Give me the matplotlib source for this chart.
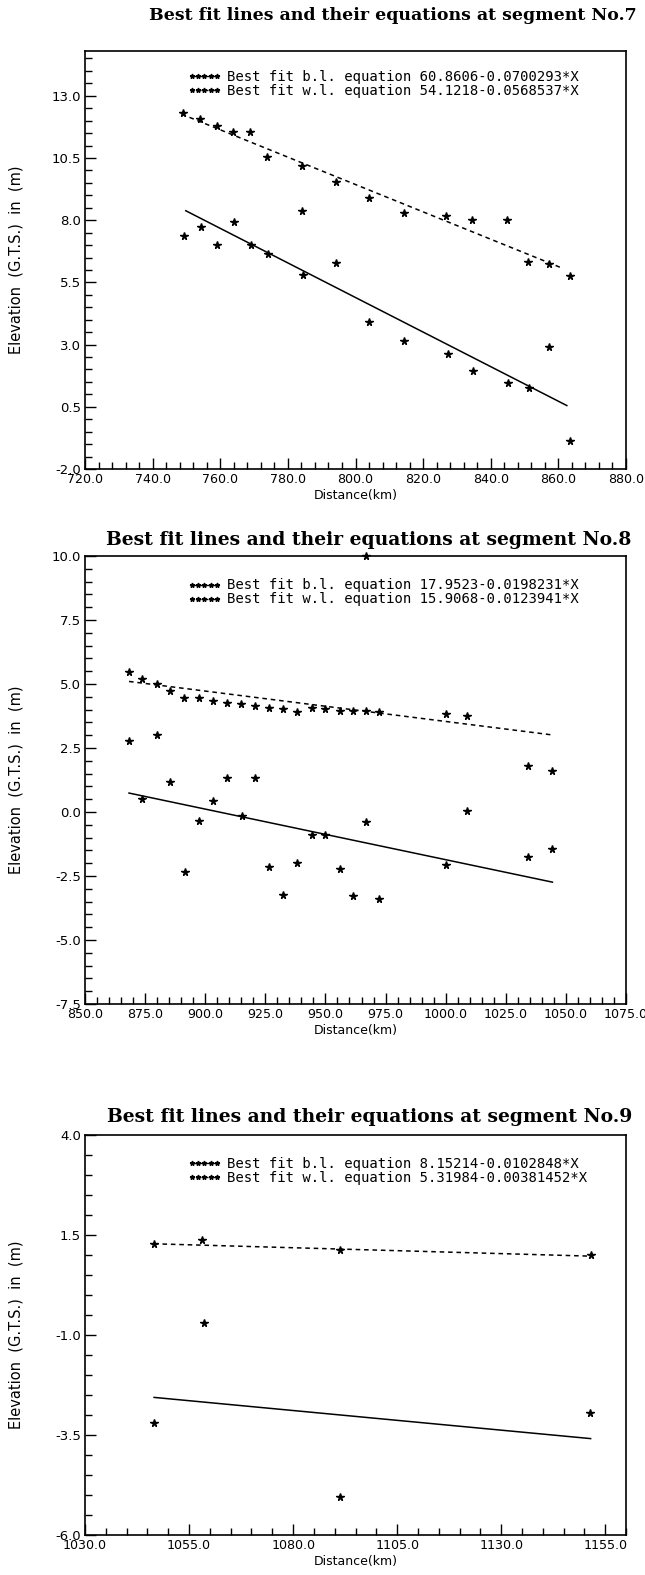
import matplotlib
matplotlib.use('Agg')
import matplotlib.pyplot as plt
from matplotlib.lines import Line2D
from matplotlib.ticker import MultipleLocator, FixedLocator, FormatStrFormatter

plt.rcParams['font.family'] = ['DejaVu Sans']
plt.rcParams['axes.unicode_minus'] = False

# segment No.7
seg7_wl_x = [748.9, 754.0, 758.9, 763.7, 768.8, 773.8, 784.2, 794.1, 804.1, 814.2, 826.9, 834.6, 844.8, 851.0, 857.3, 863.4]
seg7_wl_y = [12.30, 12.08, 11.77, 11.53, 11.53, 10.54, 10.19, 9.52, 8.89, 8.29, 8.15, 8.02, 7.99, 6.30, 6.24, 5.77]
seg7_bl_x = [749.2, 754.3, 759.1, 764.1, 769.0, 774.1, 784.2, 784.4, 794.1, 804.1, 814.4, 827.3, 834.8, 845.1, 851.2, 857.3, 863.4]
seg7_bl_y = [7.35, 7.71, 7.01, 7.93, 6.99, 6.65, 8.38, 5.81, 6.28, 3.89, 3.16, 2.64, 1.95, 1.46, 1.26, 2.89, -0.89]
seg7_bl_line_x = [749.8, 862.5]
seg7_bl_line_y = [8.38, 0.55]
seg7_wl_line_x = [748.6, 861.0]
seg7_wl_line_y = [12.26, 6.08]
seg7_labels = ['Best fit b.l. equation 60.8606-0.0700293*X',
               'Best fit w.l. equation 54.1218-0.0568537*X']

# segment No.8
seg8_wl_x = [868.3, 873.9, 879.9, 885.5, 891.3, 897.5, 903.3, 908.9, 914.9, 920.6, 926.6, 932.5, 938.0,
             944.3, 950.0, 956.0, 961.6, 967.0, 972.2, 1000.3, 1008.9, 1034.2, 1044.4, 967.0]
seg8_wl_y = [5.46, 5.21, 5.00, 4.72, 4.44, 4.44, 4.35, 4.26, 4.21, 4.13, 4.07, 4.03, 3.89,
             4.07, 4.03, 3.96, 3.93, 3.93, 3.89, 3.82, 3.75, 1.81, 1.60, 10.0]
seg8_bl_x = [868.3, 873.9, 879.9, 885.5, 891.5, 897.5, 903.3, 908.9, 915.3, 920.6, 926.6, 932.5, 938.0,
             944.3, 950.0, 956.0, 961.6, 967.0, 972.2, 1000.3, 1008.9, 1034.2, 1044.4]
seg8_bl_y = [2.78, 0.49, 3.01, 1.18, -2.33, -0.35, 0.42, 1.32, -0.14, 1.32, -2.13, -3.24, -2.01,
             -0.88, -0.88, -2.22, -3.29, -0.38, -3.38, -2.08, 0.04, -1.74, -1.43]
seg8_bl_line_x = [868.3, 1044.4]
seg8_bl_line_y = [0.74, -2.74]
seg8_wl_line_x = [868.3, 1044.4]
seg8_wl_line_y = [5.10, 3.01]
seg8_labels = ['Best fit b.l. equation 17.9523-0.0198231*X',
               'Best fit w.l. equation 15.9068-0.0123941*X']

# segment No.9
seg9_wl_x = [1046.6, 1058.2, 1091.3, 1151.5]
seg9_wl_y = [1.28, 1.38, 1.13, 0.99]
seg9_bl_x = [1046.6, 1058.5, 1091.3, 1151.3]
seg9_bl_y = [-3.19, -0.69, -5.04, -2.94]
seg9_bl_line_x = [1046.6, 1151.5]
seg9_bl_line_y = [-2.56, -3.59]
seg9_wl_line_x = [1046.6, 1152.0]
seg9_wl_line_y = [1.28, 0.97]
seg9_labels = ['Best fit b.l. equation 8.15214-0.0102848*X',
               'Best fit w.l. equation 5.31984-0.00381452*X']

W, H = 645, 1575


def draw_segment(rect, title, title_xy, title_size, wl, bl, wl_line, bl_line, labels,
                 xlim, xmajor, xminor, ylim, yticks, leg_anchor):
    ax = fig.add_axes(rect)
    ax.plot(wl_line[0], wl_line[1], color='k', lw=1.1, ls=(0, (3, 2.5)))
    ax.plot(bl_line[0], bl_line[1], color='k', lw=1.1, ls='-')
    ax.plot(wl[0], wl[1], ls='none', marker='*', ms=5.5, color='k', clip_on=False)
    ax.plot(bl[0], bl[1], ls='none', marker='*', ms=5.5, color='k', clip_on=False)

    ax.set_xlim(*xlim)
    ax.set_ylim(*ylim)
    ax.xaxis.set_major_locator(FixedLocator(xmajor))
    ax.xaxis.set_minor_locator(MultipleLocator(xminor))
    ax.yaxis.set_major_locator(FixedLocator(yticks))
    ax.yaxis.set_minor_locator(MultipleLocator(0.5))
    ax.xaxis.set_major_formatter(FormatStrFormatter('%.1f'))
    ax.yaxis.set_major_formatter(FormatStrFormatter('%.1f'))
    ax.tick_params(which='major', direction='in', length=8, width=1, labelsize=9.5, pad=3)
    ax.tick_params(axis='x', which='major', labelsize=9.1)
    ax.tick_params(which='minor', direction='in', length=5, width=1)
    for s in ax.spines.values():
        s.set_linewidth(1.2)

    ax.set_xlabel('Distance(km)', fontsize=9, labelpad=2)
    ax.set_ylabel('Elevation  (G.T.S.)  in  (m)', fontsize=10.5)
    ax.yaxis.set_label_coords(-0.113, 0.5)

    handles = [Line2D([], [], color='k', lw=1, ls='-', marker='*', ms=3.5),
               Line2D([], [], color='k', lw=1, ls=(0, (1.5, 1)), marker='*', ms=3.5)]
    ax.legend(handles, labels, loc='upper left', bbox_to_anchor=leg_anchor, frameon=False,
              prop={'family': 'DejaVu Sans Mono', 'size': 10}, numpoints=5,
              handlelength=2.4, handletextpad=0.4,
              labelspacing=0.0, borderpad=0, borderaxespad=0)

    fig.text(title_xy[0] / W, 1 - title_xy[1] / H, title, ha='center', va='center',
             family='DejaVu Serif', fontweight='bold', fontsize=title_size)
    return ax


fig = plt.figure(figsize=(W / 100, H / 100), dpi=100)

left = 85 / W
width = 541 / W

draw_segment([left, 1 - 469 / H, width, 418 / H],
             'Best fit lines and their equations at segment No.7', (393, 16), 12.5,
             (seg7_wl_x, seg7_wl_y), (seg7_bl_x, seg7_bl_y),
             (seg7_wl_line_x, seg7_wl_line_y), (seg7_bl_line_x, seg7_bl_line_y), seg7_labels,
             (720, 880), [720, 740, 760, 780, 800, 820, 840, 860, 880], 4,
             (-2.0, 14.8), [-2.0, 0.5, 3.0, 5.5, 8.0, 10.5, 13.0], (0.19, 0.955))

draw_segment([left, 1 - 1004 / H, width, 448 / H],
             'Best fit lines and their equations at segment No.8', (369, 540), 13.5,
             (seg8_wl_x, seg8_wl_y), (seg8_bl_x, seg8_bl_y),
             (seg8_wl_line_x, seg8_wl_line_y), (seg8_bl_line_x, seg8_bl_line_y), seg8_labels,
             (850, 1075), [850, 875, 900, 925, 950, 975, 1000, 1025, 1050, 1075], 5,
             (-7.5, 10.0), [-7.5, -5.0, -2.5, 0.0, 2.5, 5.0, 7.5, 10.0], (0.19, 0.95))

draw_segment([left, 1 - 1535 / H, width, 400 / H],
             'Best fit lines and their equations at segment No.9', (370, 1117), 13.5,
             (seg9_wl_x, seg9_wl_y), (seg9_bl_x, seg9_bl_y),
             (seg9_wl_line_x, seg9_wl_line_y), (seg9_bl_line_x, seg9_bl_line_y), seg9_labels,
             (1030, 1160), [1030, 1055, 1080, 1105, 1130, 1155], 5,
             (-6.0, 4.0), [-6.0, -3.5, -1.0, 1.5, 4.0], (0.19, 0.945))

fig.savefig('out.png', dpi=100)
